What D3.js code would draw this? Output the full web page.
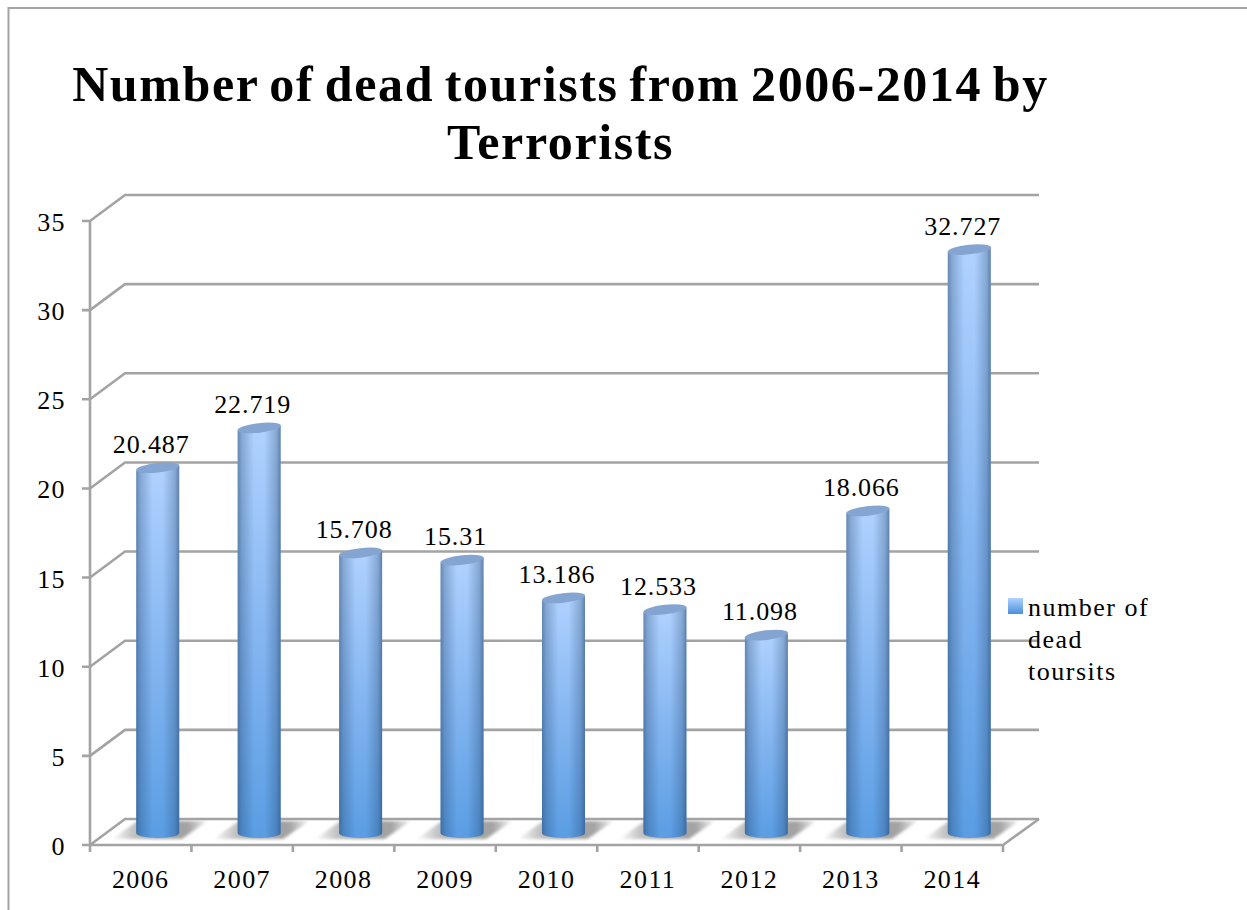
<!DOCTYPE html>
<html><head><meta charset="utf-8">
<script src="https://cdn.jsdelivr.net/npm/d3@7/dist/d3.min.js"></script>
<style>
html,body{margin:0;padding:0;background:#fff;overflow:hidden}
text{font-family:"Liberation Serif",serif;fill:#000}
</style></head><body><svg id="c" width="1247" height="910"></svg>
<script>
const categories=["2006","2007","2008","2009","2010","2011","2012","2013","2014"];
const seriesValues=[20.487,22.719,15.708,15.31,13.186,12.533,11.098,18.066,32.727];
const yTicks=[0,5,10,15,20,25,30,35];
const titleLines=["Number of dead tourists from 2006-2014 by","Terrorists"];
const legendLines=["number of","dead","toursits"];

const svg=d3.select("#c");
const depthX=35,depthY=26,grid="#a3a3a3";
const x=d3.scaleBand().domain(categories).range([90,1003]);
const y=d3.scaleLinear().domain([0,35]).range([845,221]);
const barY=d3.scaleLinear().domain([0,35]).range([833,209]);
const barX=c=>x(c)+x.bandwidth()/2+17;
const r=21.5;

const defs=svg.append("defs");
const v=defs.append("linearGradient").attr("id","gv").attr("x1",0).attr("y1",0).attr("x2",0).attr("y2",1);
v.append("stop").attr("offset","0%").attr("stop-color","#b0d2ff");
v.append("stop").attr("offset","50%").attr("stop-color","#85b6f1");
v.append("stop").attr("offset","100%").attr("stop-color","#5a9de3");
const h=defs.append("linearGradient").attr("id","gh");
[[0,.5],[.1,.28],[.38,0],[.62,0],[.9,.28],[1,.55]].forEach(s=>h.append("stop").attr("offset",s[0]).attr("stop-color","#1f3f66").attr("stop-opacity",s[1]));
const sw=defs.append("linearGradient").attr("id","gs").attr("x1",0).attr("y1",0).attr("x2",0).attr("y2",1);
sw.append("stop").attr("offset","0%").attr("stop-color","#b0d2ff");
sw.append("stop").attr("offset","100%").attr("stop-color","#4a90da");
const sh=defs.append("linearGradient").attr("id","gshadow");
sh.append("stop").attr("offset","0%").attr("stop-color","#ffffff");
sh.append("stop").attr("offset","22%").attr("stop-color","#c4c4c4");
sh.append("stop").attr("offset","45%").attr("stop-color","#a0a0a0");
sh.append("stop").attr("offset","80%").attr("stop-color","#a4a4a4");
sh.append("stop").attr("offset","100%").attr("stop-color","#f4f4f4");
defs.append("filter").attr("id","blur").append("feGaussianBlur").attr("stdDeviation",1.8);

// frame
svg.append("path").attr("d","M8.5,910V8H1247").attr("fill","none").attr("stroke","#a3a3a3").attr("stroke-width",2);

// shadows
const shadowG=svg.append("g").attr("filter","url(#blur)");
categories.forEach(c=>{
  const cx=barX(c);
  shadowG.append("path").attr("d",`M${cx-46},${y(0)-6}L${cx-20},${y(0)-24}H${cx+50}L${cx+24},${y(0)-6}Z`).attr("fill","url(#gshadow)");
});

// walls and grid
const g=svg.append("g").attr("fill","none").attr("stroke",grid).attr("stroke-width",2.6);
yTicks.forEach(t=>{
  g.append("path").attr("d",`M82,${y(t)}H90L${90+depthX},${y(t)-depthY}H1039`);
});
g.append("path").attr("d",`M90,${y(35)}V${y(0)}H1003L1039,${y(0)-depthY}`);
categories.forEach(c=>g.append("path").attr("d",`M${x(c)},${y(0)}V852`));
g.append("path").attr("d",`M1003,${y(0)}V852`);

// bars
categories.forEach((c,i)=>{
  const cx=barX(c),top=barY(seriesValues[i]),b=barY(0),ry=5;
  const d=`M${cx-r},${top+2.4}V${b}A${r},${ry} 0 0 0 ${cx+r},${b}V${top-2.4}Z`;
  svg.append("path").attr("d",d).attr("fill","url(#gv)");
  svg.append("path").attr("d",d).attr("fill","url(#gh)");
  svg.append("ellipse").attr("cx",cx).attr("cy",top).attr("rx",r+.2).attr("ry",4.8).attr("fill","#84a5d2")
    .attr("transform",`rotate(-6.4 ${cx} ${top})`);
  svg.append("text").attr("x",cx-6.5).attr("y",top-15).attr("text-anchor","middle")
    .attr("font-size",26).attr("letter-spacing",.9).text(String(seriesValues[i]));
  svg.append("text").attr("x",x(c)+x.bandwidth()/2).attr("y",888).attr("text-anchor","middle")
    .attr("font-size",26).attr("letter-spacing",1.4).text(c);
});

// y labels
yTicks.forEach(t=>svg.append("text").attr("x",66).attr("y",y(t)+10).attr("text-anchor","end")
  .attr("font-size",26).attr("letter-spacing",1.4).text(t));

// title
titleLines.forEach((l,i)=>svg.append("text").attr("x",560.5).attr("y",101+i*58).attr("text-anchor","middle")
  .attr("font-size",50).attr("font-weight","bold").attr("letter-spacing",1.6).attr("word-spacing",-3.4).text(l));

// legend
svg.append("rect").attr("x",1008).attr("y",598).attr("width",15).attr("height",16).attr("fill","url(#gs)");
legendLines.forEach((l,i)=>svg.append("text").attr("x",1028).attr("y",616+i*32).attr("font-size",26).attr("letter-spacing",1.5).text(l));
</script></body></html>
